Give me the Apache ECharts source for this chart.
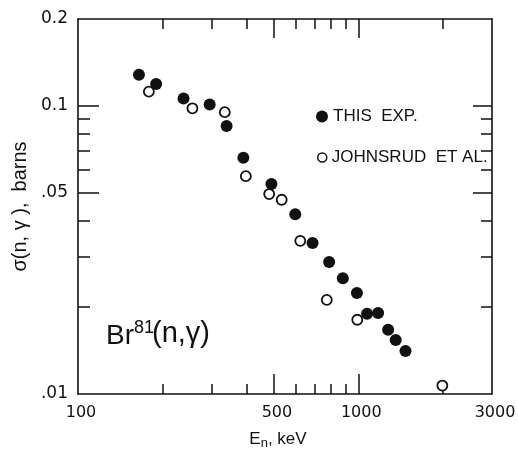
<!DOCTYPE html>
<html>
<head>
<meta charset="utf-8">
<title>Br81(n,gamma)</title>
<script src="https://cdn.jsdelivr.net/npm/echarts@6/dist/echarts.min.js"></script>
<style>
  html, body { margin: 0; padding: 0; background: #fff; }
  #chart { width: 518px; height: 455px; }
</style>
</head>
<body>
<div id="chart"></div>
<script>
// neutron energy in keV, cross section in barns
const thisExpE = [165, 190, 238, 295, 339, 389, 490, 596, 687, 787, 881, 989, 1075, 1177, 1278, 1360, 1474];
const thisExpSigma = [0.128, 0.119, 0.106, 0.101, 0.085, 0.066, 0.0535, 0.042, 0.0334, 0.0287, 0.0252, 0.0224, 0.019, 0.0191, 0.0167, 0.0154, 0.0141];
const johnsrudE = [179, 256, 334, 397, 481, 533, 621, 772, 992, 1995];
const johnsrudSigma = [0.112, 0.098, 0.095, 0.057, 0.0494, 0.0472, 0.034, 0.0212, 0.0181, 0.0107];

// axis ranges and ticks
const xRange = [100, 3000];
const yRange = [0.01, 0.2];
const xMajorTicks = [500, 1000];
const xMinorTicks = [200, 300, 400, 600, 700, 800, 900, 2000];
const xTickLabels = [100, 500, 1000, 3000];
const xTickText = ["100", "500", "1000", "3000"];
const yMajorTicks = [0.05, 0.1];
const yMinorTicks = [0.02, 0.03, 0.04, 0.06, 0.07, 0.08, 0.09];
const yTickLabels = [0.01, 0.05, 0.1, 0.2];
const yTickText = [".01", ".05", "0.1", "0.2"];

const lg = v => Math.log10(v);
const pickText = (vals, texts) => v => {
  for (let i = 0; i < vals.length; i++) {
    if (Math.abs(lg(vals[i]) - v) < 1e-6) return texts[i];
  }
  return "";
};

const ink = "#111";
const font = "Liberation Sans";

function makeAxis(pos, range, ticks, len, showLine, labels) {
  return {
    type: "value",
    position: pos,
    min: lg(range[0]),
    max: lg(range[1]),
    splitLine: { show: false },
    axisLine: { show: showLine, onZero: false, lineStyle: { color: ink, width: 1.6 } },
    axisTick: {
      show: true,
      inside: true,
      length: len,
      customValues: ticks.map(lg),
      lineStyle: { color: ink, width: 1.5 }
    },
    axisLabel: labels || { show: false }
  };
}

const xLabel = {
  show: true,
  customValues: xTickLabels.map(lg),
  formatter: pickText(xTickLabels, xTickText),
  margin: 11,
  color: ink,
  fontFamily: "DejaVu Sans",
  fontSize: 16,
  padding: [0, 0, 0, 6],
  showMinLabel: true,
  showMaxLabel: true
};
const yLabel = {
  show: true,
  customValues: yTickLabels.map(lg),
  formatter: pickText(yTickLabels, yTickText),
  margin: 10,
  color: ink,
  fontFamily: "DejaVu Sans",
  fontSize: 17,
  padding: [5, 0, 0, 0],
  showMinLabel: true,
  showMaxLabel: true
};

const xBottom = makeAxis("bottom", xRange, xMajorTicks, 20, true, xLabel);
xBottom.name = "E{sub|n}, keV";
xBottom.nameLocation = "middle";
xBottom.nameGap = 34;
xBottom.nameTextStyle = {
  color: ink, fontFamily: font, fontSize: 17, padding: [0, 14, 0, 0],
  rich: { sub: { fontFamily: font, fontSize: 13, padding: [9, 0, 0, 0], color: ink } }
};

const yLeft = makeAxis("left", yRange, yMajorTicks, 21, true, yLabel);
yLeft.name = "σ(n, γ ),  barns";
yLeft.nameLocation = "middle";
yLeft.nameRotate = 90;
yLeft.nameGap = 47;
yLeft.nameTextStyle = { color: ink, fontFamily: font, fontSize: 20 };

const option = {
  backgroundColor: "#fff",
  animation: false,
  grid: { left: 78, right: 26, top: 19, bottom: 61, containLabel: false, outerBoundsMode: "none" },
  xAxis: [
    xBottom,
    makeAxis("bottom", xRange, xMinorTicks, 10, false),
    makeAxis("top", xRange, xMajorTicks, 19, true),
    makeAxis("top", xRange, xMinorTicks, 10, false)
  ],
  yAxis: [
    yLeft,
    makeAxis("left", yRange, yMinorTicks, 12, false),
    makeAxis("right", yRange, yMajorTicks, 19, true),
    makeAxis("right", yRange, yMinorTicks, 11, false)
  ],
  legend: [
    {
      data: ["THIS  EXP."],
      left: 316,
      top: 108,
      padding: 0,
      icon: "circle",
      itemWidth: 12,
      itemHeight: 12,
      selectedMode: false,
      textStyle: { color: ink, fontFamily: font, fontSize: 17 }
    },
    {
      data: ["JOHNSRUD  ET AL."],
      left: 317,
      top: 149,
      padding: 0,
      icon: "circle",
      itemWidth: 9,
      itemHeight: 9,
      selectedMode: false,
      itemStyle: { color: "#fff", borderColor: ink, borderWidth: 1.5 },
      textStyle: { color: ink, fontFamily: font, fontSize: 17 }
    }
  ],
  graphic: [
    { type: "text", left: 106, top: 322, style: { text: "Br", font: "28px Liberation Sans", fill: ink } },
    { type: "text", left: 134, top: 319, style: { text: "81", font: "18px Liberation Sans", fill: ink } },
    { type: "text", left: 152, top: 319, style: { text: "(n,γ)", font: "29px Liberation Sans", fill: ink } }
  ],
  series: [
    {
      name: "JOHNSRUD  ET AL.",
      type: "scatter",
      symbol: "circle",
      symbolSize: 10,
      itemStyle: { color: "#fff", borderColor: ink, borderWidth: 1.8, opacity: 1 },
      data: johnsrudE.map((e, i) => [lg(e), lg(johnsrudSigma[i])])
    },
    {
      name: "THIS  EXP.",
      type: "scatter",
      symbol: "circle",
      symbolSize: 12,
      itemStyle: { color: ink, opacity: 1 },
      data: thisExpE.map((e, i) => [lg(e), lg(thisExpSigma[i])])
    }
  ]
};

const chart = echarts.init(document.getElementById("chart"), null, { renderer: "canvas" });
chart.setOption(option);
</script>
</body>
</html>
